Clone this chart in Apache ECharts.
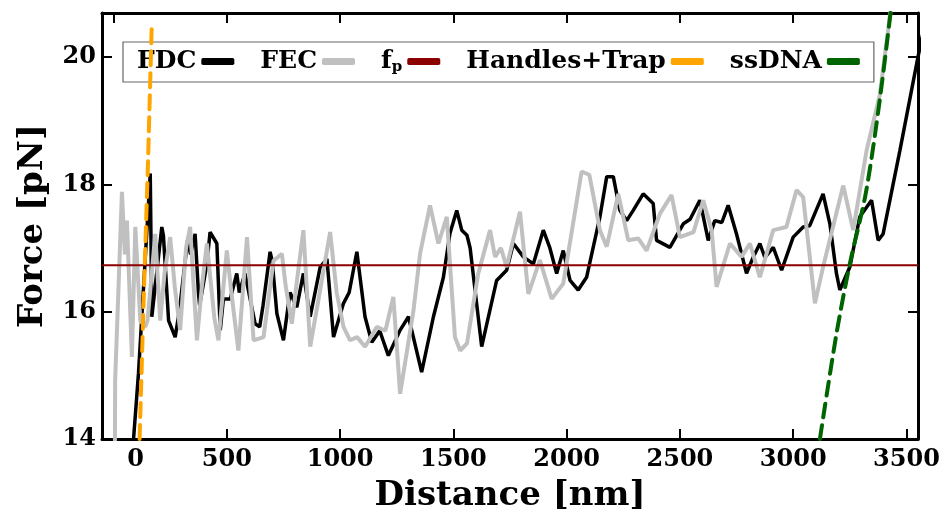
<!DOCTYPE html>
<html>
<head>
<meta charset="utf-8">
<script src="https://cdn.jsdelivr.net/npm/echarts@6/dist/echarts.min.js"></script>
<style>
html,body{margin:0;padding:0;background:#fff;}
#chart{width:945px;height:521px;}
</style>
</head>
<body>
<div id="chart"></div>
<script>
// ---- data ----
const xTicks = [0, 500, 1000, 1500, 2000, 2500, 3000, 3500];
const yTicks = [14, 16, 18, 20];
const xRange = [-51, 3551];
const yRange = [14, 20.69];

const fdcX = [84,110,162,169,176,213,220,243,272,290,327,340,360,375,380,412,426,456,471,485,515,544,555,580,625,645,660,691,700,721,750,779,809,838,868,912,942,971,1015,1040,1074,1110,1140,1175,1213,1265,1302,1360,1412,1456,1485,1515,1537,1560,1574,1625,1691,1735,1765,1809,1853,1897,1926,1956,1985,2015,2051,2088,2147,2177,2206,2235,2265,2294,2338,2382,2397,2456,2515,2545,2588,2625,2654,2685,2713,2750,2794,2823,2853,2875,2912,2949,3000,3044,3073,3132,3162,3191,3206,3250,3294,3324,3346,3375,3397,3471,3551,3580];
const fdcY = [13.8,15.03,18.17,15.92,15.92,17.33,17.2,15.86,15.6,16.0,17.12,16.9,17.22,16.28,16.1,16.75,17.25,17.07,15.71,16.2,16.2,16.6,16.3,16.6,15.81,15.76,16.1,16.94,16.8,15.97,15.55,16.3,16.07,16.6,15.92,16.7,16.83,15.6,16.13,16.3,16.94,15.92,15.52,15.7,15.31,15.71,15.92,15.05,15.92,16.54,17.23,17.59,17.28,17.2,17.0,15.45,16.49,16.65,17.07,16.86,16.75,17.28,17.0,16.6,16.96,16.49,16.34,16.54,17.49,18.12,18.12,17.59,17.43,17.59,17.85,17.7,17.12,17.01,17.38,17.45,17.75,17.12,17.43,17.4,17.67,17.22,16.6,16.85,17.07,16.85,17.01,16.65,17.17,17.33,17.35,17.85,17.38,16.6,16.34,16.7,17.49,17.64,17.75,17.12,17.22,18.53,20.0,20.5];

const fecX = [6,7,22,37,50,59,81,96,118,140,150,184,206,225,250,270,294,320,338,368,390,412,445,463,500,520,551,589,618,662,706,743,760,787,810,838,868,910,956,985,1015,1044,1075,1110,1162,1200,1235,1265,1324,1353,1397,1434,1471,1507,1530,1560,1610,1662,1684,1710,1735,1794,1831,1882,1934,1985,2066,2100,2147,2177,2228,2272,2316,2353,2412,2463,2500,2560,2603,2640,2662,2721,2772,2809,2853,2912,2970,3015,3044,3096,3132,3221,3265,3324,3382,3440];
const fecY = [13.8,14.92,16.39,17.88,16.9,17.43,15.29,17.33,15.86,15.76,15.86,17.22,15.86,16.6,17.17,16.4,15.71,17.0,17.33,15.55,16.4,17.07,15.9,15.55,16.96,16.3,15.39,17.17,15.55,15.6,16.8,16.91,16.4,15.81,16.5,17.28,15.45,16.3,17.25,16.3,15.76,15.55,15.6,15.45,15.76,15.7,16.23,14.71,16.02,16.91,17.67,17.07,17.49,15.6,15.39,15.5,16.6,17.28,16.86,17.0,16.7,17.57,16.28,16.81,16.2,16.44,18.2,18.15,17.28,17.02,17.85,17.12,17.15,16.96,17.54,17.83,17.17,17.25,17.75,17.28,16.39,17.07,16.86,17.07,16.54,17.28,17.33,17.91,17.8,16.13,16.7,17.98,17.28,18.53,19.4,21.0];

const fpValue = 16.73;

const handlesX = [115, 133, 152, 169];
const handlesY = [14.0, 16.2, 18.33, 20.55];

const ssdnaX = [3118, 3191, 3250, 3320, 3382, 3440];
const ssdnaY = [14.0, 15.65, 16.75, 17.85, 19.32, 21.0];

// ---- build ----
const zip = (a, b) => a.map((v, i) => [v, b[i]]);
const FONT = 'DejaVu Serif';
const tickFont = {fontFamily: FONT, fontWeight: 'bold', fontSize: 24, color: '#000'};

const chart = echarts.init(document.getElementById('chart'), null, {renderer: 'canvas'});

function hiddenAxis(extra) {
  return Object.assign({
    axisLine: {show: true, onZero: false, lineStyle: {color: '#000', width: 3}},
    axisLabel: {show: false},
    splitLine: {show: false}
  }, extra);
}

const option = {
  animation: false,
  backgroundColor: '#fff',
  grid: {left: 102, right: 27, top: 13, bottom: 82, containLabel: false},
  xAxis: [
    {
      type: 'value', position: 'bottom', min: xRange[0], max: xRange[1],
      name: 'Distance [nm]', nameLocation: 'middle', nameGap: 40,
      nameTextStyle: {fontFamily: FONT, fontWeight: 'bold', fontSize: 34, color: '#000'},
      axisLine: {show: true, onZero: false, lineStyle: {color: '#000', width: 3}},
      axisTick: {show: true, inside: true, length: 10, customValues: xTicks, lineStyle: {color: '#000', width: 2}},
      axisLabel: Object.assign({margin: 9, customValues: xTicks,
        formatter: v => v === 0 ? '{z|0}' : String(v),
        rich: {z: {fontFamily: FONT, fontWeight: 'bold', fontSize: 24, color: '#000', padding: [0, 0, 0, 44]}}
      }, tickFont),
      splitLine: {show: false}
    },
    hiddenAxis({type: 'value', position: 'top', min: xRange[0], max: xRange[1],
      axisTick: {show: true, inside: true, length: 10, customValues: xTicks, lineStyle: {color: '#000', width: 2}}})
  ],
  yAxis: [
    {
      type: 'value', position: 'left', min: yRange[0], max: yRange[1],
      name: 'Force [pN]', nameLocation: 'middle', nameGap: 52,
      nameTextStyle: {fontFamily: FONT, fontWeight: 'bold', fontSize: 34, color: '#000'},
      axisLine: {show: true, onZero: false, lineStyle: {color: '#000', width: 3}},
      axisTick: {show: true, inside: true, length: 10, customValues: yTicks, lineStyle: {color: '#000', width: 2}},
      axisLabel: Object.assign({margin: 6, customValues: yTicks}, tickFont),
      splitLine: {show: false}
    },
    hiddenAxis({type: 'value', position: 'right', min: yRange[0], max: yRange[1],
      axisTick: {show: true, inside: true, length: 10, customValues: yTicks, lineStyle: {color: '#000', width: 2}}})
  ],
  legend: {
    left: 123, top: 42,
    align: 'right',
    padding: [7, 14, 7, 14],
    itemGap: 26,
    itemWidth: 33, itemHeight: 7,
    icon: 'roundRect',
    borderColor: '#666', borderWidth: 1.2, borderRadius: 0,
    backgroundColor: '#fff',
    textStyle: {fontFamily: FONT, fontWeight: 'bold', fontSize: 25, color: '#000',
      rich: {
        f: {fontFamily: FONT, fontWeight: 'bold', fontSize: 25, color: '#000'},
        sub: {fontFamily: FONT, fontWeight: 'bold', fontSize: 15, color: '#000', padding: [12, 0, 0, 0]}
      }
    },
    formatter: name => name === 'fp' ? '{f|f}{sub|p}' : name,
    data: ['FDC', 'FEC', 'fp', 'Handles+Trap', 'ssDNA']
  },
  series: [
    {name: 'FDC', type: 'line', data: zip(fdcX, fdcY), showSymbol: false, symbol: 'none', clip: true,
     color: '#000', lineStyle: {color: '#000', width: 3.5}, z: 2},
    {name: 'FEC', type: 'line', data: zip(fecX, fecY), showSymbol: false, symbol: 'none', clip: true,
     color: '#c0c0c0', lineStyle: {color: '#c0c0c0', width: 4}, z: 3},
    {name: 'fp', type: 'line', data: [[xRange[0], fpValue], [xRange[1], fpValue]], showSymbol: false, symbol: 'none', clip: true,
     color: '#8b0000', lineStyle: {color: '#8b0000', width: 2}, z: 4},
    {name: 'Handles+Trap', type: 'line', data: zip(handlesX, handlesY), showSymbol: false, symbol: 'none', clip: true,
     color: '#ffa500', lineStyle: {color: '#ffa500', width: 4, type: [14, 8], cap: 'round'}, z: 5},
    {name: 'ssDNA', type: 'line', data: zip(ssdnaX, ssdnaY), showSymbol: false, symbol: 'none', clip: true, smooth: 0.3,
     color: '#006400', lineStyle: {color: '#006400', width: 4, type: [14, 8], cap: 'round'}, z: 5}
  ]
};
chart.setOption(option);
</script>
</body>
</html>
